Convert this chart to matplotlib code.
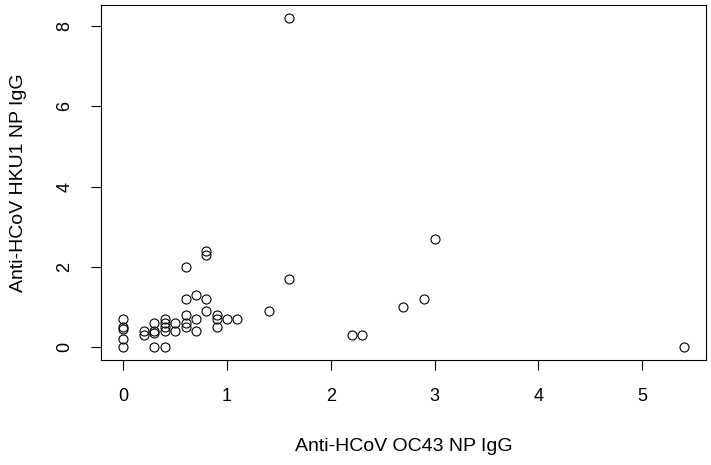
import matplotlib
matplotlib.use("Agg")
import matplotlib.pyplot as plt

# Anti-HCoV OC43 NP IgG (x) vs Anti-HCoV HKU1 NP IgG (y)
oc43 = [0, 0, 0, 0, 0,
        0.2, 0.2,
        0.3, 0.3, 0.3, 0.3,
        0.4, 0.4, 0.4, 0.4, 0.4,
        0.5, 0.5,
        0.6, 0.6, 0.6, 0.6, 0.6,
        0.7, 0.7, 0.7,
        0.8, 0.8, 0.8, 0.8,
        0.9, 0.9, 0.9,
        1.0, 1.1,
        1.4, 1.6, 1.6,
        2.2, 2.3, 2.7, 2.9, 3.0, 5.4]
hku1 = [0.7, 0.5, 0.45, 0.2, 0,
        0.4, 0.3,
        0.6, 0.4, 0.35, 0,
        0.7, 0.6, 0.5, 0.4, 0,
        0.6, 0.4,
        2.0, 1.2, 0.8, 0.6, 0.5,
        1.3, 0.7, 0.4,
        2.4, 2.3, 1.2, 0.9,
        0.8, 0.7, 0.5,
        0.7, 0.7,
        0.9, 8.2, 1.7,
        0.3, 0.3, 1.0, 1.2, 2.7, 0]
xticks = [0, 1, 2, 3, 4, 5]
yticks = [0, 2, 4, 6, 8]

plt.rcParams['font.family'] = ['Liberation Sans', 'DejaVu Sans']

fig = plt.figure(figsize=(7.11, 4.65), dpi=100)
ax = fig.add_axes([0.142, 0.226, 0.851, 0.763])
ax.plot(oc43, hku1, linestyle='none', marker='o', markersize=6.5,
        markerfacecolor='none', markeredgecolor='black', markeredgewidth=0.8)

# R style 4% padding around the data range
xr = max(oc43) - min(oc43)
yr = max(hku1) - min(hku1)
ax.set_xlim(min(oc43) - 0.04 * xr, max(oc43) + 0.04 * xr)
ax.set_ylim(min(hku1) - 0.04 * yr, max(hku1) + 0.04 * yr)

ax.set_xticks(xticks)
ax.set_yticks(yticks)
ax.set_yticklabels([str(t) for t in yticks], rotation=90, va='center')
ax.tick_params(direction='out', length=7, width=0.8, labelsize=13, pad=13)

for s in ax.spines.values():
    s.set_linewidth(0.8)

ax.set_xlabel("Anti-HCoV OC43 NP IgG", fontsize=14, labelpad=24)
ax.set_ylabel("Anti-HCoV HKU1 NP IgG", fontsize=14, labelpad=21)

fig.savefig("out.png", dpi=100)
